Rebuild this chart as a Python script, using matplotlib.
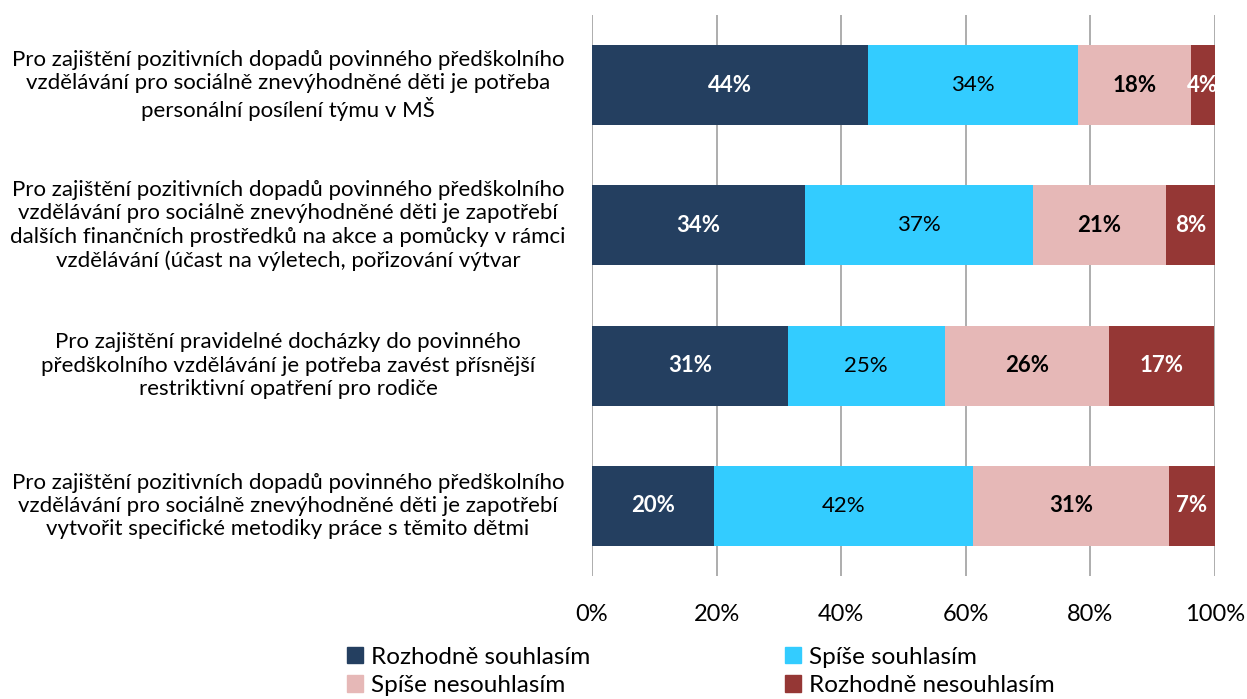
import matplotlib.pyplot as plt
from matplotlib.patches import Patch
from matplotlib.transforms import blended_transform_factory
import numpy as np

plt.rcParams['font.family'] = ['Lato', 'DejaVu Sans']

categories = [
    "Pro zajištění pozitivních dopadů povinného předškolního\nvzdělávání pro sociálně znevýhodněné děti je potřeba\npersonální posílení týmu v MŠ",
    "Pro zajištění pozitivních dopadů povinného předškolního\nvzdělávání pro sociálně znevýhodněné děti je zapotřebí\ndalších finančních prostředků na akce a pomůcky v rámci\nvzdělávání (účast na výletech, pořizování výtvar",
    "Pro zajištění pravidelné docházky do povinného\npředškolního vzdělávání je potřeba zavést přísnější\nrestriktivní opatření pro rodiče",
    "Pro zajištění pozitivních dopadů povinného předškolního\nvzdělávání pro sociálně znevýhodněné děti je zapotřebí\nvytvořit specifické metodiky práce s těmito dětmi",
]
series_names = ["Rozhodně souhlasím", "Spíše souhlasím", "Spíše nesouhlasím", "Rozhodně nesouhlasím"]
rozhodne_souhlasim = [44.3, 34.2, 31.4, 19.6]
spise_souhlasim = [33.7, 36.6, 25.2, 41.6]
spise_nesouhlasim = [18.1, 21.3, 26.4, 31.4]
rozhodne_nesouhlasim = [3.9, 7.9, 16.9, 7.4]
xticks = [0, 20, 40, 60, 80, 100]

colors = ["#243F60", "#33CCFF", "#E6B8B7", "#953735"]
label_colors = ["white", "black", "black", "white"]
label_weights = ["bold", "normal", "bold", "bold"]

fig = plt.figure(figsize=(12.47, 6.99), dpi=100)
ax = fig.add_axes([592 / 1247, 1 - 576 / 699, 623 / 1247, 561 / 699])

y = np.arange(len(categories))
left = np.zeros(len(categories))
for vals, c, lc, lw in zip([rozhodne_souhlasim, spise_souhlasim, spise_nesouhlasim, rozhodne_nesouhlasim],
                           colors, label_colors, label_weights):
    vals = np.array(vals)
    ax.barh(y, vals, left=left, height=0.57, color=c, zorder=3)
    for yi, l, v in zip(y, left, vals):
        ax.text(l + v / 2, yi, "%d%%" % round(v), ha='center', va='center',
                color=lc, fontweight=lw, fontsize=16, zorder=4)
    left = left + vals

ax.set_xlim(0, 100)
ax.set_ylim(len(categories) - 0.5, -0.5)
ax.set_xticks(xticks)
ax.set_xticklabels(["%d%%" % t for t in xticks], fontsize=17)
ax.tick_params(axis='x', length=0, pad=20)
ax.set_yticks([])
ax.grid(axis='x', color='#A0A0A0', linewidth=1.2, zorder=0)
for s in ax.spines.values():
    s.set_visible(False)

trans = blended_transform_factory(fig.transFigure, ax.transData)
for yi, cat in zip(y, categories):
    ax.text(288 / 1247, yi, cat, transform=trans, ha='center', va='center',
            multialignment='center', fontsize=16, linespacing=1.2)

handles = [Patch(color=c) for c in colors]
order = [0, 2, 1, 3]
fig.legend([handles[i] for i in order], [series_names[i] for i in order], ncol=2,
           loc='upper left', bbox_to_anchor=(337 / 1247, 1 - 637 / 699), frameon=False,
           fontsize=17.5, handlelength=0.65, handleheight=0.65, handletextpad=0.35,
           columnspacing=8.0, labelspacing=0.3, borderaxespad=0)

fig.savefig("out.png", dpi=100)
